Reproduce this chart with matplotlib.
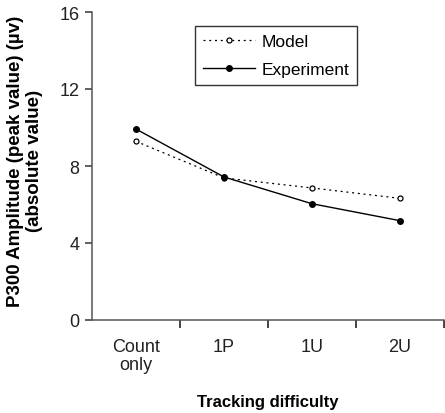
import numpy as np
import matplotlib
matplotlib.use("Agg")
from matplotlib import pyplot as plt

# values
categories = ["Count\nonly", "1P", "1U", "2U"]
model = [9.28, 7.38, 6.86, 6.32]
experiment = [9.92, 7.43, 6.04, 5.16]
y_ticks = [0, 4, 8, 12, 16]

plt.rcParams["font.family"] = ["Liberation Sans", "DejaVu Sans"]

fig = plt.figure(figsize=(4.45, 4.14), dpi=100)
ax = fig.add_axes([92 / 445, 1 - 321 / 414, 352 / 445, 308 / 414])

x = np.arange(len(categories))
ax.plot(x, model, linestyle=(0, (1.6, 3)), color="black", lw=0.9,
        marker="o", markersize=3.6, markerfacecolor="white",
        markeredgecolor="black", markeredgewidth=0.9, label="Model")
ax.plot(x, experiment, linestyle="-", color="black", lw=1.0,
        marker="o", markersize=4, markerfacecolor="black",
        markeredgecolor="black", label="Experiment")

ax.set_xlim(-0.5, 3.5)
ax.set_ylim(0, 16)
ax.set_yticks(y_ticks)
# tick marks sit between categories, labels at the centres
ax.set_xticks([0.5, 1.5, 2.5, 3.5])
ax.set_xticklabels([])
ax.set_xticks(x, minor=True)
ax.set_xticklabels(categories, minor=True, fontsize=13, linespacing=1.1)
ax.tick_params(axis="x", which="minor", length=0, pad=13, colors="#222222")
ax.tick_params(axis="x", which="major", length=6, width=1.4, color="#444444")
ax.tick_params(axis="y", length=5, width=1.2, pad=4, labelsize=13,
               color="#444444", labelcolor="#222222")

for s in ["top", "right"]:
    ax.spines[s].set_visible(False)
for s in ["left", "bottom"]:
    ax.spines[s].set_color("#555555")
    ax.spines[s].set_linewidth(1.1)

ax.set_xlabel("Tracking difficulty", fontsize=12, fontweight="bold", labelpad=15)
fig.text(25 / 445, 1 - 161 / 414,
         "P300 Amplitude (peak value) (\u00b5v)\n(absolute value)",
         rotation=90, ha="center", va="center", multialignment="center",
         fontsize=13.5, fontweight="bold", linespacing=1.1)

leg = ax.legend(loc="upper left", bbox_to_anchor=((195 - 92) / 352, (321 - 27) / 308),
                fontsize=12.5, frameon=True, fancybox=False, handlelength=3.0,
                handletextpad=0.4, borderpad=0.45, labelspacing=0.75,
                borderaxespad=0)
leg.get_frame().set_edgecolor("black")
leg.get_frame().set_linewidth(1.0)

fig.savefig("out.png", dpi=100)
